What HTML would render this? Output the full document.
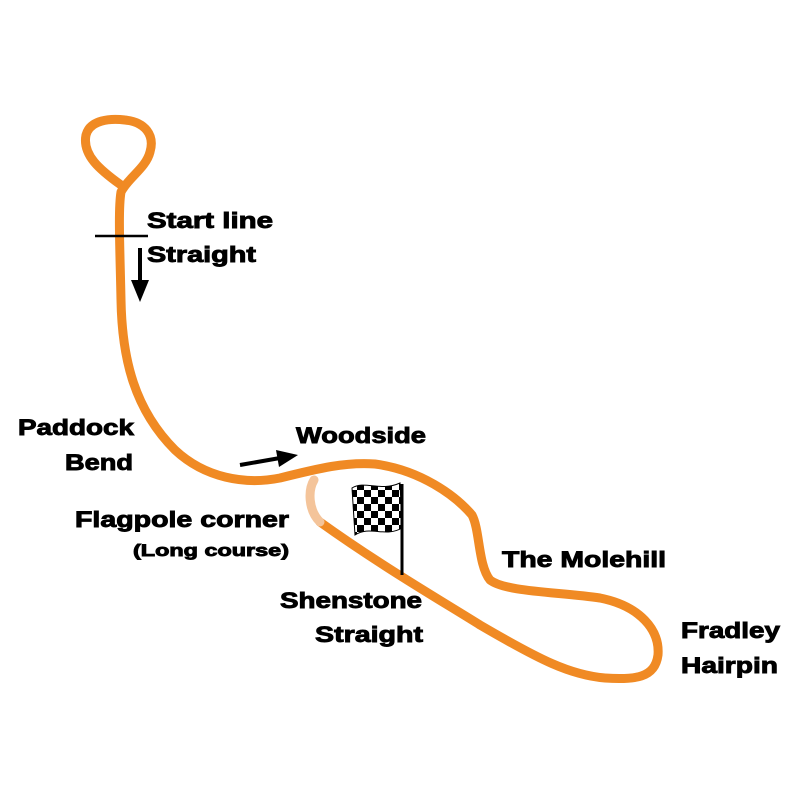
<!DOCTYPE html>
<html><head><style>
body{margin:0;width:800px;height:800px;background:#fff;overflow:hidden}
svg{display:block}
text{font-family:"Liberation Sans",Arial,sans-serif;font-weight:bold;fill:#000;stroke:#000;stroke-width:0.9}
</style></head><body>
<svg width="800" height="800" viewBox="0 0 800 800">
<g fill="none" stroke="#f08a24" stroke-width="9" stroke-linecap="round" stroke-linejoin="round">
<path d="M121,185 C100,170 82,155 86,135 C90,120 110,118 125,120 C145,122 155,135 150,152 C146,168 128,178 121,192 C118,210 120,250 121,300 C122,360 135,410 175,450 C205,478 245,485 280,478 C320,468 345,462 375,464 C420,470 455,495 472,515 C480,530 478,565 490,580 C505,592 560,592 600,598 C640,606 660,630 658,655 C655,678 635,680 605,678 C570,675 540,660 480,625 C440,600 380,565 320,522"/>
</g>
<path d="M320,522 C308,510 308,490 314,480" fill="none" stroke="#f4c49a" stroke-width="9" stroke-linecap="round"/>
<line x1="95" y1="236" x2="148" y2="236" stroke="#000" stroke-width="2.5"/>
<line x1="140" y1="248" x2="140" y2="285" stroke="#000" stroke-width="4"/>
<polygon points="131,280 149,280 140,302" fill="#000"/>
<line x1="240" y1="465" x2="280" y2="458" stroke="#000" stroke-width="4"/>
<polygon points="276,450 298,455 279,467" fill="#000"/>
<defs><pattern id="ck" width="14" height="14" patternUnits="userSpaceOnUse"><rect width="14" height="14" fill="#fff"/><rect width="7" height="7" fill="#000"/><rect x="7" y="7" width="7" height="7" fill="#000"/></pattern></defs>
<path d="M352,488 C365,480 380,492 400,483 L402,528 C385,538 370,525 355,535 Z" fill="url(#ck)" stroke="#000" stroke-width="1"/>
<line x1="402" y1="484" x2="402" y2="575" stroke="#000" stroke-width="3"/>
<text x="147" y="228" font-size="22" textLength="126" lengthAdjust="spacingAndGlyphs">Start line</text>
<text x="147" y="262" font-size="22" textLength="109" lengthAdjust="spacingAndGlyphs">Straight</text>
<text x="18" y="435" font-size="22" textLength="116" lengthAdjust="spacingAndGlyphs">Paddock</text>
<text x="65" y="470" font-size="22" textLength="68" lengthAdjust="spacingAndGlyphs">Bend</text>
<text x="296" y="443" font-size="22" textLength="130" lengthAdjust="spacingAndGlyphs">Woodside</text>
<text x="75" y="527" font-size="22" textLength="214" lengthAdjust="spacingAndGlyphs">Flagpole corner</text>
<text x="133" y="556" font-size="17" textLength="156" lengthAdjust="spacingAndGlyphs">(Long course)</text>
<text x="502" y="567" font-size="22" textLength="164" lengthAdjust="spacingAndGlyphs">The Molehill</text>
<text x="280" y="608" font-size="22" textLength="142" lengthAdjust="spacingAndGlyphs">Shenstone</text>
<text x="315" y="642" font-size="22" textLength="108" lengthAdjust="spacingAndGlyphs">Straight</text>
<text x="681" y="638" font-size="22" textLength="99" lengthAdjust="spacingAndGlyphs">Fradley</text>
<text x="681" y="673" font-size="22" textLength="97" lengthAdjust="spacingAndGlyphs">Hairpin</text>
</svg>
</body></html>
